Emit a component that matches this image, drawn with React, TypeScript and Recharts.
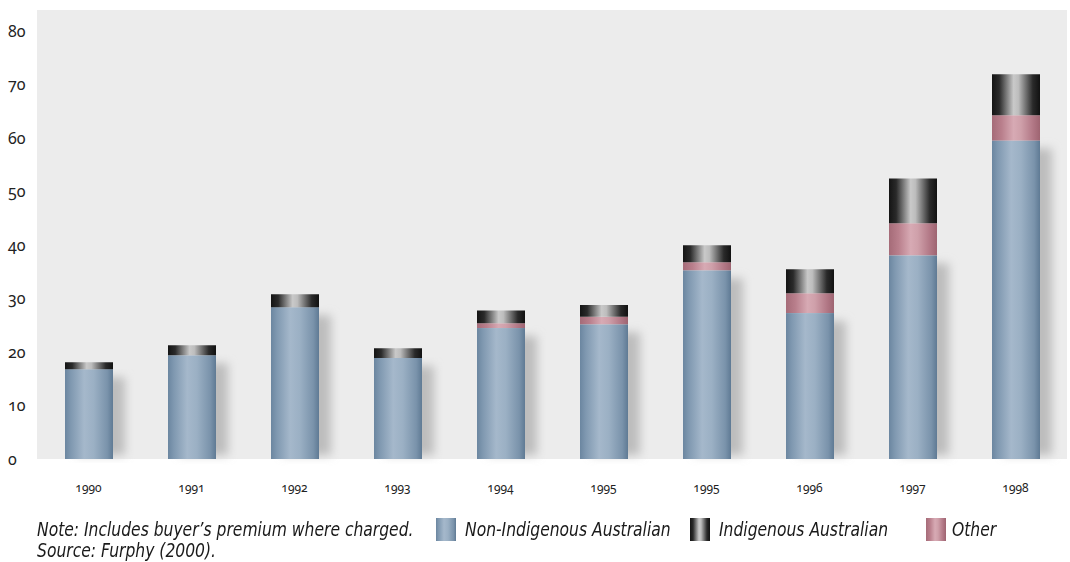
import { BarChart, Bar, XAxis, YAxis, CartesianGrid } from 'recharts'

// auction sales by year, stacked by artist origin
const years = ['1990', '1991', '1992', '1993', '1994', '1995', '1995', '1996', '1997', '1998']
const nonIndigenous = [16.8, 19.4, 28.4, 18.9, 24.5, 25.2, 35.3, 27.3, 38.1, 59.6]
const other = [0, 0, 0, 0, 0.9, 1.4, 1.5, 3.7, 6.0, 4.7]
const indigenous = [1.3, 1.9, 2.4, 1.8, 2.4, 2.2, 3.2, 4.5, 8.4, 7.7]
const yTicks = [0, 10, 20, 30, 40, 50, 60, 70, 80]

const data = years.map((year, i) => ({
    year,
    nonIndigenous: nonIndigenous[i],
    other: other[i],
    indigenous: indigenous[i],
}))

const numFont = '"Noto Sans", "Open Sans", sans-serif'
const noteFont = '"Liberation Sans Narrow", "DejaVu Sans Condensed", "Open Sans", sans-serif'

const blueCss = 'linear-gradient(to right, #6b86a0, #7f98b0 12%, #a5b8cb 40%, #9bb0c4 60%, #7a93ab 88%, #5f7a94)'
const darkCss = 'linear-gradient(to right, #141414, #2a2a2a 15%, #c9c9c9 45%, #bdbdbd 55%, #2a2a2a 85%, #111)'
const pinkCss = 'linear-gradient(to right, #a56b78, #b97f8c 20%, #d7aab4 45%, #cfa0aa 60%, #b27886 85%, #9e6471)'

// blue column with a soft drop shadow trailing to the right
const BlueShape = (props: any) => {
    const { x, y, width, height } = props
    if (!height || height <= 0) return null
    return (
        <g>
            <rect x={x + 12} y={y + 8} width={width} height={Math.max(height - 12, 0)}
                fill="#bdbdbd" filter="url(#barShadow)" />
            <rect x={x} y={y} width={width} height={height} fill="url(#blueGrad)" />
        </g>
    )
}

const YTick = (props: any) => {
    const { y, payload } = props
    return (
        <text x={8} y={y} dy="0.35em" textAnchor="start" fontSize={16} fill="#222"
            fontFamily={numFont} style={{ fontVariantNumeric: 'oldstyle-nums' }}>
            {payload.value}
        </text>
    )
}

const XTick = (props: any) => {
    const { x, y, payload } = props
    return (
        <text x={x} y={y + 21} dy="0.35em" textAnchor="middle" fontSize={12} fill="#222"
            fontFamily={numFont} style={{ fontVariantNumeric: 'oldstyle-nums' }}>
            {payload.value}
        </text>
    )
}

const Swatch = ({ left, bg }: { left: number; bg: string }) => (
    <div style={{ position: 'absolute', left, top: 518, width: 20, height: 23, background: bg }} />
)

const Label = ({ left, top = 519, text }: { left: number; top?: number; text: string }) => (
    <div style={{
        position: 'absolute', left, top, fontSize: 19, lineHeight: '21px',
        fontStyle: 'italic', fontFamily: noteFont, color: '#1a1a1a', whiteSpace: 'nowrap',
        transform: 'scaleX(0.91)', transformOrigin: 'left center',
    }}>{text}</div>
)

const App = () => {
    return (
        <div style={{ position: 'absolute', left: 0, top: 0, width: 1070, height: 562, background: '#fff' }}>
            <BarChart width={1070} height={500} data={data} barSize={48}
                margin={{ top: 10, right: 3, left: 0, bottom: 0 }}>
                <defs>
                    <linearGradient id="blueGrad" x1="0" y1="0" x2="1" y2="0">
                        <stop offset="0%" stopColor="#6b86a0" />
                        <stop offset="12%" stopColor="#7f98b0" />
                        <stop offset="40%" stopColor="#a5b8cb" />
                        <stop offset="60%" stopColor="#9bb0c4" />
                        <stop offset="88%" stopColor="#7a93ab" />
                        <stop offset="100%" stopColor="#5f7a94" />
                    </linearGradient>
                    <linearGradient id="darkGrad" x1="0" y1="0" x2="1" y2="0">
                        <stop offset="0%" stopColor="#141414" />
                        <stop offset="15%" stopColor="#2a2a2a" />
                        <stop offset="45%" stopColor="#c9c9c9" />
                        <stop offset="55%" stopColor="#bdbdbd" />
                        <stop offset="85%" stopColor="#2a2a2a" />
                        <stop offset="100%" stopColor="#111111" />
                    </linearGradient>
                    <linearGradient id="pinkGrad" x1="0" y1="0" x2="1" y2="0">
                        <stop offset="0%" stopColor="#a56b78" />
                        <stop offset="20%" stopColor="#b97f8c" />
                        <stop offset="45%" stopColor="#d7aab4" />
                        <stop offset="60%" stopColor="#cfa0aa" />
                        <stop offset="85%" stopColor="#b27886" />
                        <stop offset="100%" stopColor="#9e6471" />
                    </linearGradient>
                    <filter id="barShadow" x="-50%" y="-10%" width="200%" height="120%">
                        <feGaussianBlur stdDeviation="5" />
                    </filter>
                </defs>
                <CartesianGrid fill="#ececec" stroke="none" horizontal={false} vertical={false} />
                <XAxis dataKey="year" axisLine={false} tickLine={false} height={41} tick={<XTick />} interval={0} />
                <YAxis domain={[0, 84]} ticks={yTicks} axisLine={false} tickLine={false} width={37}
                    tick={<YTick />} interval={0} />
                <Bar dataKey="nonIndigenous" stackId="s" shape={<BlueShape />} isAnimationActive={false} />
                <Bar dataKey="other" stackId="s" fill="url(#pinkGrad)" isAnimationActive={false} />
                <Bar dataKey="indigenous" stackId="s" fill="url(#darkGrad)" isAnimationActive={false} />
            </BarChart>
            <Label left={37} text="Note: Includes buyer’s premium where charged." />
            <Label left={37} top={540} text="Source: Furphy (2000)." />
            <Swatch left={436} bg={blueCss} />
            <Label left={465} text="Non-Indigenous Australian" />
            <Swatch left={690} bg={darkCss} />
            <Label left={719} text="Indigenous Australian" />
            <Swatch left={926} bg={pinkCss} />
            <Label left={952} text="Other" />
        </div>
    )
}

export default App
